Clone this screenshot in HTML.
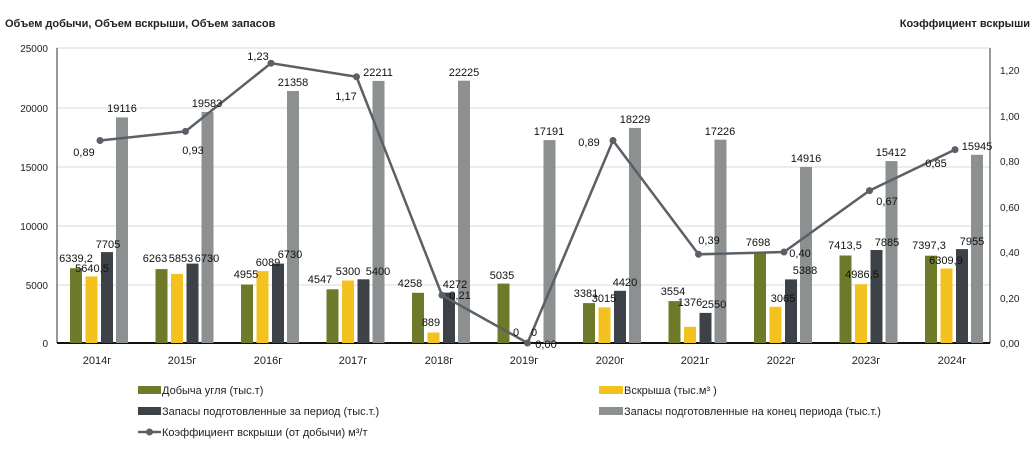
<!DOCTYPE html>
<html><head><meta charset="utf-8"><style>
body{margin:0;background:#fff;}
svg{display:block;font-family:"Liberation Sans",sans-serif;}
.t{font-size:11px;fill:#222;}
.v{font-size:11px;fill:#111;text-anchor:middle;}
.ax{font-size:10px;fill:#222;}
</style></head><body>
<svg width="1035" height="467" viewBox="0 0 1035 467">
<text x="5" y="27" font-size="11" font-weight="bold" fill="#222">Объем добычи, Объем вскрыши, Объем запасов</text>
<text x="1030" y="27" font-size="11" font-weight="bold" fill="#222" text-anchor="end">Коэффициент вскрыши</text>
<g stroke="#d8d8d8" stroke-width="1">
<line x1="57" y1="48" x2="990" y2="48"/><line x1="57" y1="108" x2="990" y2="108"/><line x1="57" y1="167" x2="990" y2="167"/><line x1="57" y1="226" x2="990" y2="226"/><line x1="57" y1="285" x2="990" y2="285"/>
</g>
<line x1="57" y1="48" x2="57" y2="343" stroke="#333"/>
<line x1="990" y1="48" x2="990" y2="343" stroke="#333"/>
<line x1="57" y1="343" x2="990" y2="343" stroke="#111" stroke-width="2"/>
<g class="ax" text-anchor="end">
<text x="48" y="52">25000</text><text x="48" y="112">20000</text><text x="48" y="171">15000</text><text x="48" y="230">10000</text><text x="48" y="289">5000</text><text x="48" y="347">0</text>
</g>
<g class="ax">
<text x="1000" y="347">0,00</text><text x="1000" y="302">0,20</text><text x="1000" y="256">0,40</text><text x="1000" y="211">0,60</text><text x="1000" y="165">0,80</text><text x="1000" y="120">1,00</text><text x="1000" y="74">1,20</text>
</g>
<g fill="#6e7a2a">
<rect x="70" y="268.2" width="12" height="74.8"/><rect x="155.5" y="269.1" width="12" height="73.9"/><rect x="241" y="284.5" width="12" height="58.5"/><rect x="326.5" y="289.3" width="12" height="53.7"/><rect x="412" y="292.8" width="12" height="50.2"/><rect x="497.5" y="283.6" width="12" height="59.4"/><rect x="583" y="303.1" width="12" height="39.9"/><rect x="668.5" y="301.1" width="12" height="41.9"/><rect x="754" y="252.2" width="12" height="90.8"/><rect x="839.5" y="255.5" width="12" height="87.5"/><rect x="925" y="255.7" width="12" height="87.3"/>
</g>
<g fill="#f4c21f">
<rect x="85.5" y="276.4" width="12" height="66.6"/><rect x="171" y="273.9" width="12" height="69.1"/><rect x="256.5" y="271.1" width="12" height="71.9"/><rect x="342" y="280.5" width="12" height="62.5"/><rect x="427.5" y="332.5" width="12" height="10.5"/><rect x="598.5" y="307.4" width="12" height="35.6"/><rect x="684" y="326.8" width="12" height="16.2"/><rect x="769.5" y="306.8" width="12" height="36.2"/><rect x="855" y="284.2" width="12" height="58.8"/><rect x="940.5" y="268.5" width="12" height="74.5"/>
</g>
<g fill="#3d4248">
<rect x="101" y="252.1" width="12" height="90.9"/><rect x="186.5" y="263.6" width="12" height="79.4"/><rect x="272" y="263.6" width="12" height="79.4"/><rect x="357.5" y="279.3" width="12" height="63.7"/><rect x="443" y="292.6" width="12" height="50.4"/><rect x="614" y="290.8" width="12" height="52.2"/><rect x="699.5" y="312.9" width="12" height="30.1"/><rect x="785" y="279.4" width="12" height="63.6"/><rect x="870.5" y="250" width="12" height="93"/><rect x="956" y="249.1" width="12" height="93.9"/>
</g>
<g fill="#8c9091">
<rect x="116" y="117.4" width="12" height="225.6"/><rect x="201.5" y="111.9" width="12" height="231.1"/><rect x="287" y="91" width="12" height="252"/><rect x="372.5" y="80.9" width="12" height="262.1"/><rect x="458" y="80.7" width="12" height="262.3"/><rect x="543.5" y="140.1" width="12" height="202.9"/><rect x="629" y="127.9" width="12" height="215.1"/><rect x="714.5" y="139.7" width="12" height="203.3"/><rect x="800" y="167" width="12" height="176"/><rect x="885.5" y="161.1" width="12" height="181.9"/><rect x="971" y="154.8" width="12" height="188.2"/>
</g>
<polyline fill="none" stroke="#5a6066" stroke-width="2.5" points="100,140.5 185.5,131.4 271,63.2 356.5,76.8 442,295.2 527.5,343 613,140.5 698.5,254.3 784,252 869.5,190.6 955,149.6"/>
<g fill="#5a6066">
<circle cx="100" cy="140.5" r="3.5"/><circle cx="185.5" cy="131.4" r="3.5"/><circle cx="271" cy="63.2" r="3.5"/><circle cx="356.5" cy="76.8" r="3.5"/><circle cx="442" cy="295.2" r="3.5"/><circle cx="527.5" cy="343" r="3.5"/><circle cx="613" cy="140.5" r="3.5"/><circle cx="698.5" cy="254.3" r="3.5"/><circle cx="784" cy="252" r="3.5"/><circle cx="869.5" cy="190.6" r="3.5"/><circle cx="955" cy="149.6" r="3.5"/>
</g>
<g class="v">
<text x="122" y="112">19116</text><text x="207" y="107">19583</text><text x="293" y="86">21358</text><text x="378" y="76">22211</text><text x="464" y="76">22225</text><text x="549" y="135">17191</text><text x="635" y="123">18229</text><text x="720" y="135">17226</text><text x="806" y="162">14916</text><text x="891" y="156">15412</text><text x="977" y="150">15945</text>
<text x="108" y="248">7705</text><text x="76" y="262">6339,2</text><text x="92" y="272">5640,5</text>
<text x="155" y="262">6263</text><text x="181" y="262">5853</text><text x="207" y="262">6730</text>
<text x="246" y="278">4955</text><text x="268" y="266">6089</text><text x="290" y="258">6730</text>
<text x="320" y="283">4547</text><text x="348" y="275">5300</text><text x="378" y="275">5400</text>
<text x="410" y="287">4258</text><text x="431" y="326">889</text><text x="455" y="288">4272</text>
<text x="502" y="279">5035</text><text x="516" y="336">0</text><text x="534" y="336">0</text>
<text x="586" y="297">3381</text><text x="604" y="302">3015</text><text x="625" y="286">4420</text>
<text x="673" y="295">3554</text><text x="690" y="306">1376</text><text x="714" y="308">2550</text>
<text x="758" y="246">7698</text><text x="783" y="302">3065</text><text x="805" y="274">5388</text>
<text x="845" y="249">7413,5</text><text x="862" y="278">4986,5</text><text x="887" y="246">7885</text>
<text x="929" y="249">7397,3</text><text x="946" y="264">6309,9</text><text x="972" y="245">7955</text>
<text x="84" y="156">0,89</text><text x="193" y="154">0,93</text><text x="258" y="60">1,23</text><text x="346" y="100">1,17</text><text x="460" y="299">0,21</text><text x="546" y="348">0,00</text><text x="589" y="146">0,89</text><text x="709" y="244">0,39</text><text x="800" y="257">0,40</text><text x="887" y="205">0,67</text><text x="936" y="167">0,85</text>
</g>
<g font-size="11" fill="#222" text-anchor="middle">
<text x="97" y="364">2014г</text><text x="182" y="364">2015г</text><text x="268" y="364">2016г</text><text x="353" y="364">2017г</text><text x="439" y="364">2018г</text><text x="524" y="364">2019г</text><text x="610" y="364">2020г</text><text x="695" y="364">2021г</text><text x="781" y="364">2022г</text><text x="866" y="364">2023г</text><text x="952" y="364">2024г</text>
</g>
<rect x="138" y="386" width="23" height="8" fill="#6e7a2a"/>
<text class="t" x="162" y="394">Добыча угля (тыс.т)</text>
<rect x="138" y="407" width="23" height="8" fill="#3d4248"/>
<text class="t" x="162" y="415">Запасы подготовленные за период (тыс.т.)</text>
<line x1="138" y1="432" x2="161" y2="432" stroke="#5a6066" stroke-width="2.5"/><circle cx="149.5" cy="432" r="3.5" fill="#5a6066"/>
<text class="t" x="162" y="436">Коэффициент вскрыши (от добычи) м³/т</text>
<rect x="599" y="386" width="24" height="8" fill="#f4c21f"/>
<text class="t" x="624" y="394">Вскрыша (тыс.м³ )</text>
<rect x="599" y="407" width="24" height="8" fill="#8c9091"/>
<text class="t" x="624" y="415">Запасы подготовленные на конец периода (тыс.т.)</text>
</svg>
</body></html>
